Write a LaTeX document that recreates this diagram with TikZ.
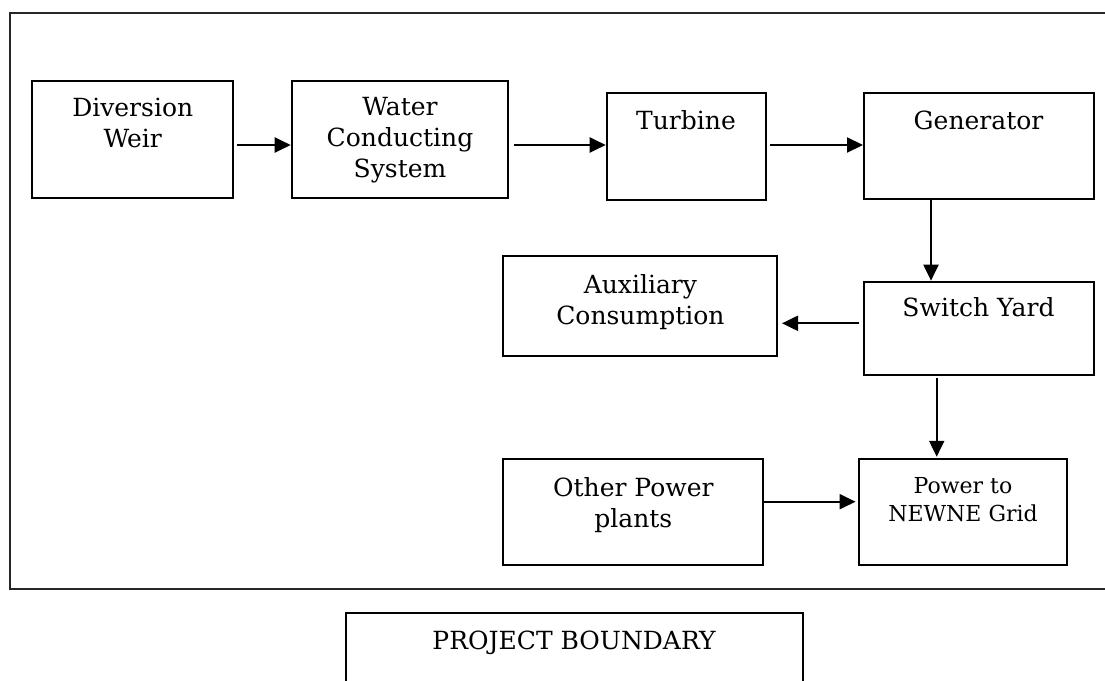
\documentclass[tikz,border=0pt]{standalone}
\usepackage{fontspec}
\setmainfont{DejaVu Serif}
\usetikzlibrary{arrows.meta}
\newcommand\mainfs{\fontsize{25}{31}\selectfont}
\newcommand\smallfs{\fontsize{22}{28.4}\selectfont}
\begin{document}
\begin{tikzpicture}[x=1pt,y=-1pt,
  box/.style={draw, line width=2pt, inner sep=0pt},
  lbl/.style={anchor=north, inner sep=0pt, align=center, font=\mainfs},
  arr/.style={line width=2.1pt, -{Triangle[length=16pt,width=15pt]}},
  frame/.style={draw, line width=2pt, black!85}]
\useasboundingbox (0,0) rectangle (1105,680);
\clip (0,0) rectangle (1105,680);
\path[fill=white] (0,0) rectangle (1105,680);
% project boundary frame
\draw[frame] (10,13.3) rectangle (1130,589.3);
% boxes
\node[box, minimum width=200.7pt, minimum height=117pt] (div) at (132.7,139.2) {};
\node[box, minimum width=216.6pt, minimum height=117.3pt] (wcs) at (400,139.7) {};
\node[box, minimum width=159pt, minimum height=106.7pt] (tur) at (686.2,146.7) {};
\node[box, minimum width=230pt, minimum height=106pt] (gen) at (979,146.3) {};
\node[box, minimum width=274pt, minimum height=100pt] (aux) at (640.3,305.7) {};
\node[box, minimum width=230pt, minimum height=93.3pt] (sw) at (979,328.3) {};
\node[box, minimum width=260pt, minimum height=105.7pt] (oth) at (633.3,512.2) {};
\node[box, minimum width=207.3pt, minimum height=105.7pt] (pwr) at (963,512.2) {};
\node[box, minimum width=457pt, minimum height=100pt] (pb) at (574.2,663.3) {};
% texts
\node[lbl] (div-t) at (132.7,94.3) {\strut Diversion\\Weir};
\node[lbl] (wcs-t) at (400,93.3) {\strut Water\\Conducting\\System};
\node[lbl] (tur-t) at (686,107.3) {\strut Turbine};
\node[lbl] (gen-t) at (978.5,107.6) {\strut Generator};
\node[lbl] (aux-t) at (640.4,271.6) {\strut Auxiliary\\Consumption};
\node[lbl] (sw-t) at (978.5,295) {\strut Switch Yard};
\node[lbl] (oth-t) at (633.3,474.3) {\strut Other Power\\plants};
\node[lbl, font=\smallfs] (pwr-t) at (963,473.4) {\strut Power to\\NEWNE Grid};
\node[lbl] (pb-t) at (574,627.3) {\strut PROJECT BOUNDARY};
% connectors
\coordinate (a1) at (236.7,145);
\coordinate (a2) at (514,145);
\coordinate (a3) at (770,145);
\coordinate (a4) at (931,0);
\coordinate (a5) at (859.3,323.3);
\coordinate (a6) at (936.7,378);
\coordinate (a7) at (763.3,501.7);
\draw[arr] (a1) -- (a1 -| wcs.west);
\draw[arr] (a2) -- (a2 -| tur.west);
\draw[arr] (a3) -- (a3 -| gen.west);
\draw[arr] (a4 |- gen.south) -- (a4 |- sw.north);
\draw[arr, shorten >=3.7pt] (a5) -- (a5 -| aux.east);
\draw[arr, shorten >=1.6pt] (a6) -- (a6 |- pwr.north);
\draw[arr, shorten >=2.8pt] (a7) -- (a7 -| pwr.west);
\end{tikzpicture}
\end{document}
